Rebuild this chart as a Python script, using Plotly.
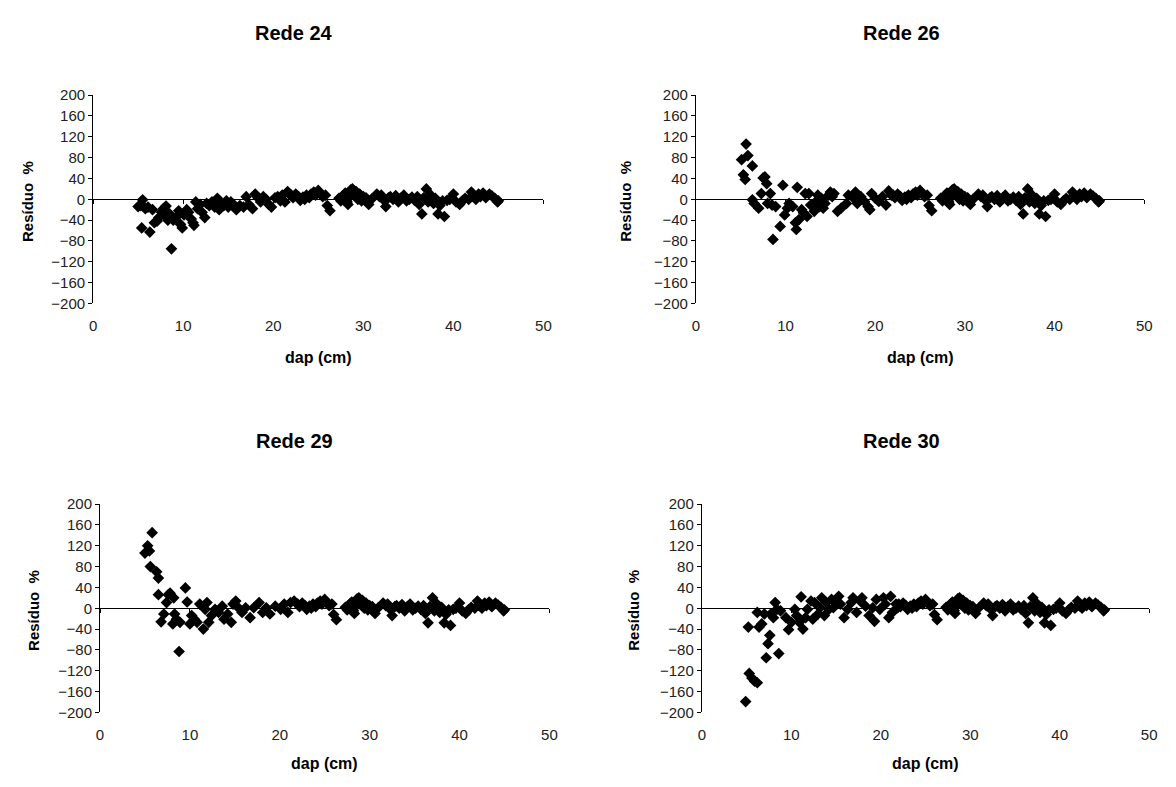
import plotly.graph_objects as go

# ---------------- data ----------------
# shared tail (dap >= 22 cm), nearly identical in all four panels
dap_tail = [22.0, 22.2, 22.5, 22.8, 23.0, 23.3, 23.5, 23.7, 24.0, 24.2, 24.5, 24.7, 25.0, 25.2, 25.5, 25.8, 26.0, 26.3,
            27.3, 27.5, 27.8, 28.0, 28.2, 28.3, 28.4, 28.6, 28.8, 29.0, 29.2, 29.4, 29.6, 29.8, 30.0, 30.3, 30.6, 30.9,
            31.5, 31.8, 32.0, 32.3, 32.5, 32.8, 33.0, 33.3, 33.6, 33.9, 34.2, 34.5, 34.8, 35.1, 35.4, 35.7, 36.0, 36.2,
            36.5, 36.7, 37.0, 37.2, 37.5, 37.8, 38.0, 38.3, 38.5, 38.8, 39.0, 39.3, 39.6,
            40.0, 40.3, 40.7, 41.0, 41.3, 41.7, 42.0, 42.2, 42.5, 42.8, 43.0, 43.3, 43.6, 44.0, 44.3, 44.6, 44.9, 45.0]
res_tail = [8, 3, 10, 5, -2, 4, 0, 8, 3, 10, 14, 8, 17, 12, 5, 8, -12, -22,
            2, -3, 8, 12, -5, -10, 3, 18, 20, 8, 15, 0, 10, -3, 5, 3, -10, 0,
            10, 5, 8, -2, -14, 3, 5, 0, 7, -5, 3, 8, -3, 0, 4, -2, 5, -10,
            -28, 3, 20, -5, 8, -8, 2, -28, -12, -3, -33, -2, 0,
            10, -5, -10, -3, 2, 0, 14, 5, 0, 10, 5, 12, 3, 10, 6, 2, -5, -3]

# Rede 24 (dap < 22 cm)
dap_24 = [5.0, 5.3, 5.5, 5.4, 5.8, 6.1, 6.3, 6.6, 6.8, 7.1, 7.3, 7.6, 7.8, 8.0, 8.1, 8.3, 8.5, 8.7, 8.9, 9.2,
          9.5, 9.7, 9.9, 10.1, 10.4, 10.6, 10.9, 11.1, 11.2, 11.4, 11.6, 11.9, 12.1, 12.4, 12.6, 12.9, 13.2, 13.5,
          13.8, 14.0, 14.2, 14.5, 14.8, 15.0, 15.3, 15.6, 15.9, 16.3, 16.7, 17.0, 17.3, 17.7, 18.0, 18.3, 18.6,
          18.9, 19.2, 19.5, 19.8, 20.2, 20.5, 20.8, 21.0, 21.3, 21.6, 21.8]
res_24 = [-14, -12, -1, -55, -18, -15, -63, -20, -45, -42, -35, -25, -18, -30, -13, -40, -28, -95, -40, -35,
          -22, -48, -55, -30, -20, -25, -38, -45, -50, -5, -18, -10, -25, -35, -8, -12, -5, -15,
          2, -20, -8, -12, -3, -15, -5, -10, -20, -12, -15, 5, -10, -18, 10, 3, -5,
          5, 0, -10, -15, 3, 5, -3, 8, -5, 15, 10]

# Rede 26 (dap < 22 cm)
dap_26 = [5.1, 5.3, 5.5, 5.6, 5.8, 6.3, 6.3, 6.5, 7.0, 7.3, 7.5, 7.7, 7.9, 8.0, 8.3, 8.5, 8.6, 8.9, 9.4, 9.7,
          9.9, 10.2, 10.4, 10.8, 11.1, 11.2, 11.3, 11.5, 11.8, 12.0, 12.2, 12.4, 12.6, 12.8, 13.2, 13.4, 13.6,
          13.8, 14.0, 14.2, 14.4, 14.8, 15.0, 15.2, 15.4, 15.8, 16.2, 16.8, 17.0, 17.6, 17.8, 18.0, 18.4, 18.8,
          19.2, 19.4, 19.6, 20.0, 20.4, 20.8, 21.2, 21.5, 21.8]
res_26 = [76, 47, 38, 106, 84, 64, -1, -8, -17, 11, 41, 43, 30, -8, 11, -11, -77, -14, -52, 27,
          -30, -17, -8, -14, -45, -58, 23, -39, -20, -26, 11, -33, 11, -11, -23, -4, 8,
          -14, 2, -17, -8, 8, 14, 5, 11, -23, -17, -8, 8, 2, 14, -8, 5, -4,
          -14, -20, 11, 2, -4, 5, -11, 16, 8]

# Rede 29 (dap < 22 cm)
dap_29 = [5.0, 5.3, 5.5, 5.6, 5.8, 6.3, 6.5, 6.5, 6.8, 7.1, 7.4, 7.6, 7.8, 8.1, 8.2, 8.3, 8.5, 8.8, 8.9, 9.5,
          9.7, 10.0, 10.2, 10.5, 10.8, 11.1, 11.5, 11.7, 11.9, 12.1, 12.4, 12.8, 13.2, 13.6, 13.8, 14.2, 14.6,
          14.8, 15.1, 15.4, 15.8, 16.2, 16.7, 17.1, 17.7, 18.1, 18.5, 18.9, 19.5, 20.1, 20.5, 20.9, 21.2, 21.6]
res_29 = [106, 120, 110, 80, 145, 70, 58, 26, -26, -11, 11, 26, 29, -30, 20, -11, -21, -83, -27, 39,
          12, -30, -14, -21, -27, 8, -40, -2, 11, -27, -14, -2, -8, 4, -21, -11, -27,
          8, 14, 1, -8, 1, -18, 1, 11, -8, 1, -11, 4, -2, 8, -8, 11, 14]

# Rede 30 (dap < 22 cm)
dap_30 = [4.9, 5.2, 5.3, 5.6, 5.9, 6.2, 6.2, 6.4, 6.7, 7.0, 7.2, 7.4, 7.6, 7.7, 8.0, 8.2, 8.4, 8.6, 8.8, 9.4,
          9.7, 10.0, 10.4, 10.6, 10.9, 11.1, 11.3, 11.6, 11.8, 12.2, 12.4, 12.6, 13.0, 13.2, 13.4, 13.7, 13.9,
          14.2, 14.5, 14.7, 15.0, 15.3, 15.5, 15.9, 16.3, 16.7, 16.9, 17.3, 17.7, 17.9, 18.3, 18.7, 19.1, 19.3,
          19.5, 19.9, 20.3, 20.5, 20.9, 21.1, 21.3, 21.7, 21.9]
res_30 = [-179, -36, -125, -134, -140, -143, -8, -36, -30, -11, -95, -68, -52, -11, -18, 11, -2, -87, -5, -18,
          -41, -27, -2, -14, -27, 22, -40, -18, -2, 14, -21, 11, -11, 1, 20, -14, 11,
          -2, 17, 1, 11, 23, 8, -18, -2, 11, 20, -8, 14, 20, 4, -14, 1, -25,
          17, -2, 20, 8, -18, 23, -8, 8, 1]

titles = ["Rede 24", "Rede 26", "Rede 29", "Rede 30"]
heads = [(dap_24, res_24), (dap_26, res_26), (dap_29, res_29), (dap_30, res_30)]
x_ticks = [0, 10, 20, 30, 40, 50]
y_ticks = [200, 160, 120, 80, 40, 0, -40, -80, -120, -160, -200]

# ---------------- layout geometry (pixels) ----------------
W, H = 1176, 787
# plot areas: (left, right, top, bottom)
areas = [(90, 545, 88, 301), (699, 1152, 88, 301), (97, 551, 506, 719), (705, 1157, 506, 719)]
title_pos = [(293, 25), (907, 25), (293, 442), (907, 442)]
ytitle_x = [24, 628, 30, 636]
xtitle_y = [356, 356, 771, 771]

tick_font = dict(family="Liberation Sans Narrow, Arial Narrow, Liberation Sans, Arial, sans-serif",
                 size=15, color="#222")
bold_font = "Liberation Sans, Arial, sans-serif"

fig = go.Figure()
layout = dict(width=W, height=H, margin=dict(l=0, r=0, t=0, b=0),
              paper_bgcolor="white", plot_bgcolor="white", showlegend=False)
annotations = []

for i, ((d, r), title, (l, rt, t, b)) in enumerate(zip(heads, titles, areas)):
    n = i + 1
    sx = "" if n == 1 else str(n)
    ov = str(n + 4)
    xd = [l / W, rt / W]
    yd = [1 - b / H, 1 - t / H]
    # empty trace so the y = 0 axis line is rendered
    fig.add_trace(go.Scatter(x=[None], y=[None], mode="markers", hoverinfo="skip",
                             xaxis="x" + ov, yaxis="y" + sx))
    fig.add_trace(go.Scatter(
        x=d + dap_tail, y=r + res_tail, mode="markers",
        marker=dict(symbol="diamond", size=9, color="black", line=dict(width=0)),
        xaxis="x" + sx, yaxis="y" + sx, cliponaxis=False))
    layout["xaxis" + sx] = dict(domain=xd, anchor="y" + sx, range=[0, 50], tickvals=x_ticks,
                                showline=False, showgrid=False, zeroline=False,
                                ticks="outside", ticklen=9, tickcolor="rgba(0,0,0,0)",
                                tickfont=tick_font, fixedrange=True)
    layout["yaxis" + sx] = dict(domain=yd, anchor="x" + sx, range=[-200, 200], tickvals=y_ticks,
                                showline=True, linecolor="black", linewidth=1,
                                ticks="outside", ticklen=4, tickcolor="black",
                                showgrid=False, zeroline=False, tickfont=tick_font, fixedrange=True)
    # axis line drawn through y = 0 with its tick marks
    layout["xaxis" + ov] = dict(overlaying="x" + sx, anchor="free", position=(yd[0] + yd[1]) / 2,
                                domain=xd, range=[0, 50], tickvals=x_ticks, showticklabels=False,
                                showline=True, linecolor="black", linewidth=1,
                                ticks="outside", ticklen=4, tickcolor="black",
                                showgrid=False, zeroline=False, fixedrange=True)
    tx, ty = title_pos[i]
    annotations.append(dict(text="<b>%s</b>" % title, x=tx / W, y=1 - ty / H, xref="paper", yref="paper",
                            showarrow=False, xanchor="center", yanchor="middle",
                            font=dict(family=bold_font, size=20, color="black")))
    annotations.append(dict(text="<b>dap (cm)</b>", x=(l + rt) / 2 / W, y=1 - xtitle_y[i] / H,
                            xref="paper", yref="paper", showarrow=False, xanchor="center", yanchor="middle",
                            font=dict(family=bold_font, size=16, color="black")))
    annotations.append(dict(text="<b>Resíduo  %</b>", x=ytitle_x[i] / W, y=1 - ((t + b) / 2 + 2) / H,
                            xref="paper", yref="paper", showarrow=False, textangle=-90,
                            xanchor="center", yanchor="middle",
                            font=dict(family=bold_font, size=15, color="black")))

layout["annotations"] = annotations
fig.update_layout(**layout)
fig.write_html("out.html")
